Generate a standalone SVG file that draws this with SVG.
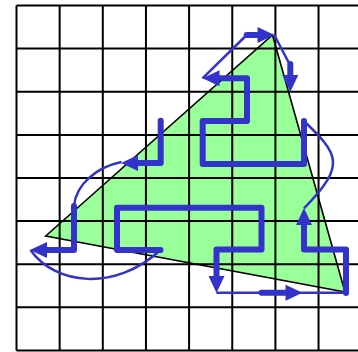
<svg xmlns="http://www.w3.org/2000/svg" width="358" height="352" viewBox="0 0 358 352">
<style>
.grid line{stroke:#000;stroke-width:2}
.thick{fill:none;stroke:#3333cc;stroke-width:6;stroke-linejoin:round;stroke-linecap:round;marker-end:url(#ah)}
.thin{fill:none;stroke:#3333cc;stroke-width:2.5}
</style>
<defs>
<marker id="ah" markerUnits="userSpaceOnUse" markerWidth="18" markerHeight="18" viewBox="0 -9 18 18" refX="0" refY="0" orient="auto" overflow="visible">
<path d="M0,-8 L17,0 L0,8 Z" fill="#3333cc"/>
</marker>
</defs>
<rect width="358" height="352" fill="#fff"/>
<g id="triangle-fill">
<polygon points="45.7,236 272.5,35 345,292" fill="#99ff99"/>
</g>
<g id="grid" class="grid">
<line x1="16.5" y1="5.5" x2="16.5" y2="350.5"/>
<line x1="59.65" y1="5.5" x2="59.65" y2="350.5"/>
<line x1="102.8" y1="5.5" x2="102.8" y2="350.5"/>
<line x1="145.95" y1="5.5" x2="145.95" y2="350.5"/>
<line x1="189.1" y1="5.5" x2="189.1" y2="350.5"/>
<line x1="232.25" y1="5.5" x2="232.25" y2="350.5"/>
<line x1="275.4" y1="5.5" x2="275.4" y2="350.5"/>
<line x1="318.55" y1="5.5" x2="318.55" y2="350.5"/>
<line x1="16.5" y1="5.5" x2="358" y2="5.5"/>
<line x1="16.5" y1="48.6" x2="358" y2="48.6"/>
<line x1="16.5" y1="91.7" x2="358" y2="91.7"/>
<line x1="16.5" y1="134.9" x2="358" y2="134.9"/>
<line x1="16.5" y1="178" x2="358" y2="178"/>
<line x1="16.5" y1="221.1" x2="358" y2="221.1"/>
<line x1="16.5" y1="264.2" x2="358" y2="264.2"/>
<line x1="16.5" y1="307.3" x2="358" y2="307.3"/>
<line x1="16.5" y1="350.5" x2="358" y2="350.5"/>
</g>
<g id="triangle">
<polygon points="45.7,236 272.5,35 345,292" fill="none" stroke="#000" stroke-width="1.6"/>
</g>
<g id="connectors">
<path class="thick" d="M160.7,120.7 V163 H138"/>
<path class="thin" d="M121.5,162 C97,167 76,184 74,206"/>
<path class="thick" d="M74,206 V250 H47"/>
<path class="thin" d="M30.5,250 C55,285 115,292 160.5,250"/>
<path class="thick" d="M160.5,250 H117 V207.7 H261.5 V249.5 H216.5 V276"/>
<path class="thin" d="M216.5,292.7 H346"/>
<path class="thick" d="M261.5,292.7 H285.5"/>
<path class="thick" d="M346,293 V249.5 H304 V225"/>
<path class="thin" d="M304,208.3 C348,164 337,153 304,121"/>
<path class="thick" d="M304,121 V164 H202.7 V121 H247 V78.3 H219.5"/>
<path class="thin" d="M202.5,78.3 L246.7,35"/>
<path class="thick" d="M246.7,35 H257.5"/>
<path class="thin" d="M274.3,35 L289.5,64"/>
<path class="thick" d="M290.3,64 V75"/>
</g>
</svg>
